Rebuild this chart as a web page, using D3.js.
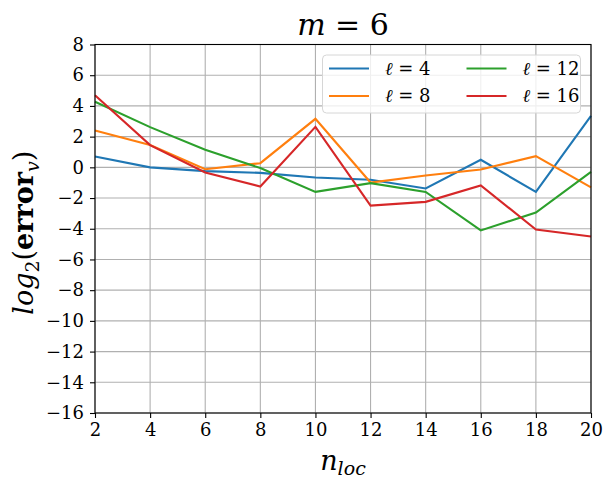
<!DOCTYPE html>
<html>
<head>
<meta charset="utf-8">
<script src="https://cdn.jsdelivr.net/npm/d3@7"></script>
<style>
  body { margin: 0; background: #fff; }
  text { font-family: "DejaVu Serif", serif; }
</style>
</head>
<body>
<div id="chart"></div>
<script>
// data
const nloc = [2, 4, 6, 8, 10, 12, 14, 16, 18, 20];
const ell4  = [0.70, 0.00, -0.25, -0.36, -0.66, -0.81, -1.38, 0.49, -1.60, 3.35];
const ell8  = [2.40, 1.45, -0.12, 0.27, 3.16, -0.99, -0.53, -0.14, 0.73, -1.31];
const ell12 = [4.27, 2.62, 1.14, -0.05, -1.60, -1.03, -1.60, -4.11, -2.94, -0.29];
const ell16 = [4.70, 1.45, -0.34, -1.25, 2.64, -2.49, -2.25, -1.18, -4.05, -4.50];
const seriesNames = ["4", "8", "12", "16"];
const xTicks = [2, 4, 6, 8, 10, 12, 14, 16, 18, 20];
const yTicks = [-16, -14, -12, -10, -8, -6, -4, -2, 0, 2, 4, 6, 8];

const series = [
  {name: seriesNames[0], values: ell4,  color: "#1f77b4"},
  {name: seriesNames[1], values: ell8,  color: "#ff7f0e"},
  {name: seriesNames[2], values: ell12, color: "#2ca02c"},
  {name: seriesNames[3], values: ell16, color: "#d62728"}
];

const width = 611, height = 486;
const margin = {left: 95, right: 20, top: 44.5, bottom: 73};
const serif = "'DejaVu Serif', serif";

const svg = d3.select("#chart").append("svg")
  .attr("width", width)
  .attr("height", height);

const x = d3.scaleLinear().domain([2, 20]).range([margin.left, width - margin.right]);
const y = d3.scaleLinear().domain([-16, 8]).range([height - margin.bottom, margin.top]);

// grid
svg.append("g").selectAll("line.vx")
  .data(xTicks)
  .enter().append("line")
  .attr("x1", d => x(d)).attr("x2", d => x(d))
  .attr("y1", y(-16)).attr("y2", y(8))
  .attr("stroke", "#b0b0b0").attr("stroke-width", 1.1);

svg.append("g").selectAll("line.hy")
  .data(yTicks)
  .enter().append("line")
  .attr("x1", x(2)).attr("x2", x(20))
  .attr("y1", d => y(d)).attr("y2", d => y(d))
  .attr("stroke", "#b0b0b0").attr("stroke-width", 1.1);

// lines
const line = d3.line()
  .x((d, i) => x(nloc[i]))
  .y(d => y(d));

svg.append("g").selectAll("path.series")
  .data(series)
  .enter().append("path")
  .attr("fill", "none")
  .attr("stroke", d => d.color)
  .attr("stroke-width", 2.1)
  .attr("d", d => line(d.values));

// axes
const fmt = d => d < 0 ? "\u2212" + Math.abs(d) : String(d);

const xAxis = svg.append("g")
  .attr("transform", `translate(0,${y(-16)})`)
  .call(d3.axisBottom(x).tickValues(xTicks).tickFormat(fmt).tickSize(5).tickPadding(5));

const yAxis = svg.append("g")
  .attr("transform", `translate(${x(2)},0)`)
  .call(d3.axisLeft(y).tickValues(yTicks).tickFormat(fmt).tickSize(5).tickPadding(6));

[xAxis, yAxis].forEach(a => {
  a.attr("font-family", null);
  a.select(".domain").remove();
  a.selectAll("line").attr("stroke", "#000").attr("stroke-width", 1.1);
  a.selectAll("text")
    .attr("fill", "#000")
    .style("font-family", serif)
    .style("font-size", "18px");
});

// frame
svg.append("rect")
  .attr("x", x(2)).attr("y", y(8))
  .attr("width", x(20) - x(2)).attr("height", y(-16) - y(8))
  .attr("fill", "none").attr("stroke", "#000").attr("stroke-width", 1.1);

// legend
const legend = svg.append("g");
legend.append("rect")
  .attr("x", 322.5).attr("y", 55)
  .attr("width", 258).attr("height", 58)
  .attr("rx", 4)
  .attr("fill", "#fff").attr("fill-opacity", 0.8)
  .attr("stroke", "#d6d6d6").attr("stroke-width", 1);

const legendPos = [
  {lx: 329, ly: 68.5},
  {lx: 329, ly: 96},
  {lx: 466.5, ly: 68.5},
  {lx: 466.5, ly: 96}
];

series.forEach((s, i) => {
  const p = legendPos[i];
  legend.append("line")
    .attr("x1", p.lx).attr("x2", p.lx + 40)
    .attr("y1", p.ly).attr("y2", p.ly)
    .attr("stroke", s.color).attr("stroke-width", 2.1);
  const t = legend.append("text")
    .attr("x", p.lx + 56).attr("y", p.ly + 6)
    .style("font-size", "18px");
  t.append("tspan").style("font-style", "italic").text("\u2113");
  t.append("tspan").text(" = " + s.name);
});

// title
const title = svg.append("text")
  .attr("x", 343).attr("y", 35)
  .attr("text-anchor", "middle")
  .style("font-size", "30px");
title.append("tspan").style("font-style", "italic").text("m");
title.append("tspan").text(" = 6");

// x label
const xl = svg.append("text")
  .attr("x", 343).attr("y", 470)
  .attr("text-anchor", "middle")
  .style("font-size", "27px");
xl.append("tspan").style("font-style", "italic").text("n");
xl.append("tspan").style("font-style", "italic").style("font-size", "19px")
  .attr("dy", 5).text("loc");

// y label
const yl = svg.append("text")
  .attr("transform", `translate(33,${(y(8) + y(-16)) / 2 + 4}) rotate(-90)`)
  .attr("text-anchor", "middle")
  .style("font-size", "27px");
yl.append("tspan").style("font-style", "italic").text("log");
yl.append("tspan").style("font-size", "19px").attr("dy", 6).text("2");
yl.append("tspan").attr("dy", -6).text("(");
yl.append("tspan").style("font-weight", "bold").text("error");
yl.append("tspan").style("font-style", "italic").style("font-size", "19px").attr("dy", 6).text("v");
yl.append("tspan").attr("dy", -6).text(")");
</script>
</body>
</html>
